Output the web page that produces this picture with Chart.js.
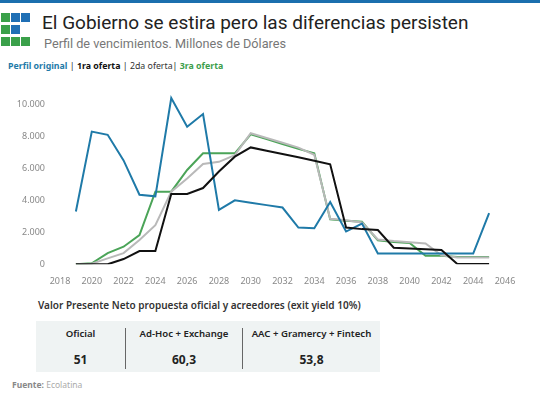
<!DOCTYPE html>
<html lang="es">
<head>
<meta charset="utf-8">
<script src="https://cdn.jsdelivr.net/npm/chart.js@4.4.0/dist/chart.umd.min.js"></script>
<style>
  html, body { margin: 0; padding: 0; background: #fff; }
  body { width: 540px; height: 405px; position: relative; overflow: hidden; font-family: "Noto Sans", sans-serif; }
  .topbar { position: absolute; left: 0; top: 0; width: 540px; height: 3px; background: #1b6fae; }
  .logo span { position: absolute; width: 9px; height: 9px; }
  .g { background: #3aa04a; }
  .b { background: #1f6fb5; }
  .title { position: absolute; left: 42px; top: 11px; font-family: Roboto, sans-serif; font-size: 19px; color: #222; white-space: nowrap; }
  .subtitle { position: absolute; left: 44px; top: 36px; font-family: Roboto, sans-serif; font-size: 12.7px; color: #777; white-space: nowrap; }
  .legend { position: absolute; left: 8px; top: 60px; font-size: 8.8px; font-weight: 700; white-space: nowrap; }
  .legend .sep { color: #222; font-weight: 400; }
  #wrap { position: absolute; left: 0; top: 68px; width: 540px; height: 227px; }
  .vpn { position: absolute; left: 38px; top: 298px; font-size: 10px; font-weight: 600; color: #333; white-space: nowrap; }
  .tabla { position: absolute; left: 36px; top: 321px; width: 344px; height: 51px; background: #eff3f3; }
  .cell { position: absolute; top: 0; height: 51px; text-align: center; color: #222; }
  .cell .h { position: absolute; left: 0; right: 0; top: 6px; font-size: 9.6px; font-weight: 600; }
  .cell .v { position: absolute; left: 0; right: 0; top: 30px; font-size: 12px; font-weight: 700; }
  .vline { position: absolute; top: 7px; width: 1px; height: 41px; background: #666; }
  .fuente { position: absolute; left: 12px; top: 379px; font-size: 8.5px; color: #aaa; }
  .fuente b { color: #888; }
</style>
</head>
<body>
<div class="topbar"></div>
<div class="logo">
  <span class="g" style="left:1px;top:13px"></span>
  <span class="b" style="left:11px;top:13px"></span>
  <span class="b" style="left:21px;top:13px"></span>
  <span class="g" style="left:1px;top:25px"></span>
  <span class="b" style="left:11px;top:25px"></span>
  <span class="g" style="left:1px;top:37px"></span>
  <span class="g" style="left:11px;top:37px"></span>
  <span class="g" style="left:21px;top:37px"></span>
</div>
<div class="title">El Gobierno se estira pero las diferencias persisten</div>
<div class="subtitle">Perfil de vencimientos. Millones de Dólares</div>
<div class="legend">
  <span style="color:#1f7aa8">Perfil original</span> <span class="sep">|</span>
  <span style="color:#111">1ra oferta</span> <span class="sep">|</span>
  <span style="color:#333;font-weight:400">2da oferta</span><span class="sep">|</span>
  <span style="color:#3d9e4c">3ra oferta</span>
</div>
<div id="wrap"><canvas id="chartPerfil"></canvas></div>
<div class="vpn">Valor Presente Neto propuesta oficial y acreedores (exit yield 10%)</div>
<div class="tabla">
  <div class="cell" style="left:0;width:89px"><div class="h">Oficial</div><div class="v">51</div></div>
  <div class="vline" style="left:89px"></div>
  <div class="cell" style="left:90px;width:116px"><div class="h">Ad-Hoc + Exchange</div><div class="v">60,3</div></div>
  <div class="vline" style="left:206px"></div>
  <div class="cell" style="left:207px;width:137px"><div class="h">AAC + Gramercy + Fintech</div><div class="v">53,8</div></div>
</div>
<div class="fuente"><b>Fuente:</b> Ecolatina</div>

<script>
const anios = [2019, 2020, 2021, 2022, 2023, 2024, 2025, 2026, 2027, 2028, 2029, 2030, 2031, 2032,
               2033, 2034, 2035, 2036, 2037, 2038, 2039, 2040, 2041, 2042, 2043, 2044, 2045];

const perfilOriginal = [3300, 8300, 8100, 6500, 4350, 4250, 10400, 8600, 9400, 3400, 4000, 3850, 3700, 3550,
                        2300, 2250, 3900, 2050, 2550, 670, 670, 670, 670, 670, 670, 670, 3200];
const primeraOferta  = [0, 0, 0, 330, 830, 830, 4400, 4400, 4770, 5800, 6730, 7310, 7100, 6900,
                        6700, 6480, 6250, 2300, 2200, 2140, 1040, 990, 940, 890, 20, 20, 20];
const segundaOferta  = [0, 30, 370, 700, 1520, 2450, 4540, 5370, 6270, 6410, 6830, 8200, 7900, 7600,
                        7300, 6850, 2850, 2750, 2620, 1550, 1450, 1380, 1300, 560, 420, 420, 420];
const terceraOferta  = [0, 60, 700, 1100, 1830, 4540, 4540, 5900, 6940, 6940, 6940, 8130, 7830, 7520,
                        7220, 6940, 2810, 2730, 2660, 1500, 1400, 1330, 540, 540, 450, 450, 450];

const ticksY = [0, 2000, 4000, 6000, 8000, 10000];
const ticksX = [2018, 2020, 2022, 2024, 2026, 2028, 2030, 2032, 2034, 2036, 2038, 2040, 2042, 2044, 2046];

const puntos = serie => serie.map((v, i) => ({ x: anios[i], y: v }));
const miles = v => String(v).replace(/\B(?=(\d{3})+(?!\d))/g, '.');

new Chart(document.getElementById('chartPerfil'), {
  type: 'line',
  data: {
    datasets: [
      { label: 'Perfil original', data: puntos(perfilOriginal), borderColor: '#1f7aa8', order: 2 },
      { label: '1ra oferta', data: puntos(primeraOferta), borderColor: '#111111', order: 1 },
      { label: '2da oferta', data: puntos(segundaOferta), borderColor: '#b9b9b9', order: 3 },
      { label: '3ra oferta', data: puntos(terceraOferta), borderColor: '#4ba458', order: 4 }
    ]
  },
  options: {
    responsive: true,
    maintainAspectRatio: false,
    animation: false,
    layout: { padding: { left: 0, right: 35, top: 8.3, bottom: 4.7 } },
    elements: {
      line: { borderWidth: 2, tension: 0 },
      point: { radius: 0 }
    },
    plugins: { legend: { display: false }, tooltip: { enabled: false } },
    scales: {
      x: {
        type: 'linear',
        min: 2018,
        max: 2046,
        afterBuildTicks: s => { s.ticks = ticksX.map(v => ({ value: v })); },
        afterFit: s => { s.height = 26; },
        grid: { display: false, drawTicks: false },
        border: { display: false },
        ticks: { color: '#888', font: { family: 'Noto Sans', size: 9 }, padding: 12, maxRotation: 0, callback: v => String(v) }
      },
      y: {
        min: 0,
        max: 11000,
        afterBuildTicks: s => { s.ticks = ticksY.map(v => ({ value: v })); },
        afterFit: s => { s.width = 60; },
        grid: { display: false, drawTicks: false },
        border: { display: false },
        ticks: { color: '#888', font: { family: 'Noto Sans', size: 9 }, padding: 15, callback: v => miles(v) }
      }
    }
  }
});
</script>
</body>
</html>
